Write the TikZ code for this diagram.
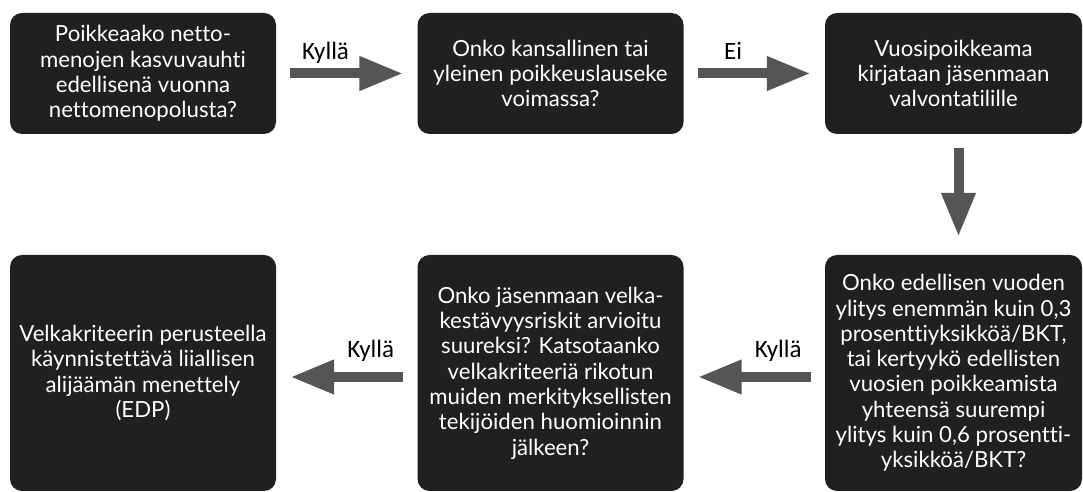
\documentclass[tikz,border=0pt]{standalone}
\usepackage{fontspec}
\setmainfont{Lato}[Ligatures=NoCommon]
\newfontfamily\lblfont{Carlito}
\usetikzlibrary{positioning}
\usetikzlibrary{arrows.meta}
\definecolor{boxblack}{HTML}{202020}
\definecolor{arrowgray}{HTML}{555555}
\tikzset{box/.style={fill=boxblack, rounded corners=12pt, text=white, align=center, inner sep=0pt, font=\fontsize{22.2}{25.3}\selectfont}}
\tikzset{topbox/.style={box, minimum width=266pt, minimum height=121pt}}
\tikzset{lowbox/.style={box, minimum width=266pt, minimum height=236pt}}
\tikzset{flow/.style={arrowgray, line width=10pt, -{Triangle[length=44pt,width=32pt]}, shorten <=14pt, shorten >=14pt}}
\tikzset{lbl/.style={font=\lblfont\fontsize{25}{28}\selectfont, text=black, inner sep=0pt, anchor=base}}

\begin{document}
\begin{tikzpicture}[x=1pt, y=1pt]
\useasboundingbox (0,0) rectangle (1083,492);
\begin{scope}[on grid]
\node[topbox] (q1) at (143, 418.5) {Poikkeaako netto-\\menojen kasvuvauhti\\edellisenä vuonna\\nettomenopolusta?};
\node[topbox] (q2) [right = 407.5pt of q1] {Onko kansallinen tai\\yleinen poikkeuslauseke\\voimassa?};
\node[topbox, minimum width=257pt] (acc) [right = 403pt of q2] {Vuosipoikkeama\\kirjataan jäsenmaan\\valvontatilille};
\node[lowbox, minimum width=257pt] (q3) [below = 299.5pt of acc] {Onko edellisen vuoden\\ylitys enemmän kuin 0,3\\prosenttiyksikköä/BKT,\\tai kertyykö edellisten\\vuosien poikkeamista\\yhteensä suurempi\\ylitys kuin 0,6 prosentti-\\yksikköä/BKT?};
\node[lowbox] (q4) [left = 403pt of q3] {Onko jäsenmaan velka-\\kestävyysriskit arvioitu\\suureksi? Katsotaanko\\velkakriteeriä rikotun\\muiden merkityksellisten\\tekijöiden huomioinnin\\jälkeen?};
\node[lowbox] (edp) [left = 407.5pt of q4] {Velkakriteerin perusteella\\käynnistettävä liiallisen\\alijäämän menettely\\(EDP)};

\draw[flow] (q1) -- node[lbl, pos=0.35, yshift=14pt] {Kyllä} (q2);
\draw[flow] (q2) -- node[lbl, pos=0.35, yshift=14pt] {Ei} (acc);
\draw[flow, shorten >=18pt] ([xshift=5pt]acc.south) -- ([xshift=5pt]q3.north);
\draw[flow] ([yshift=-4pt]q3.west) -- node[lbl, pos=0.33, yshift=19pt] {Kyllä} ([yshift=-4pt]q4.east);
\draw[flow] ([yshift=-4pt]q4.west) -- node[lbl, pos=0.33, yshift=19pt] {Kyllä} ([yshift=-4pt]edp.east);
\end{scope}
\end{tikzpicture}
\end{document}
